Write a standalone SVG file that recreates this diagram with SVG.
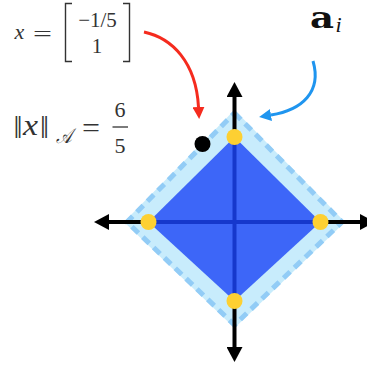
<svg xmlns="http://www.w3.org/2000/svg" width="367" height="367" viewBox="0 0 367 367">
<style>
.axis{stroke:#000;stroke-width:4;fill:none}
.inax{stroke:#1638cc;stroke-width:4;fill:none}
.dot{fill:#fdd032}
</style>
<defs>
<marker id="ah" markerUnits="userSpaceOnUse" viewBox="0 0 15 16" refX="0" refY="8" markerWidth="15" markerHeight="16" orient="auto">
<path d="M0,0 L15,8 L0,16 z" fill="#000"/>
</marker>
<marker id="ahRed" markerUnits="userSpaceOnUse" viewBox="0 0 12 12" refX="0" refY="6" markerWidth="12" markerHeight="12" orient="auto">
<path d="M0,0 L12,6 L0,12 z" fill="#f52b1e"/>
</marker>
<marker id="ahBlue" markerUnits="userSpaceOnUse" viewBox="0 0 12 12" refX="0" refY="6" markerWidth="12" markerHeight="12" orient="auto">
<path d="M0,0 L12,6 L0,12 z" fill="#1f95ef"/>
</marker>
</defs>

<g id="outer-ball">
<polygon points="234.5,110 345,222 234.5,328 124,222" fill="#c8ecfc"/>
<polygon points="234.5,113 342,222 234.5,325 127,222" fill="none" stroke="#92ccf6" stroke-width="5" stroke-dasharray="9,6"/>
</g>
<g id="inner-ball">
<polygon points="234.5,137 320.5,222 234.5,301 148.5,222" fill="#3d66f8"/>
<line class="inax" x1="234.5" y1="137" x2="234.5" y2="301"/>
<line class="inax" x1="148.5" y1="222" x2="320.5" y2="222"/>
</g>
<g id="axes">
<line class="axis" x1="234.5" y1="137" x2="234.5" y2="97" marker-end="url(#ah)"/>
<line class="axis" x1="234.5" y1="301" x2="234.5" y2="347" marker-end="url(#ah)"/>
<line class="axis" x1="148.5" y1="222" x2="109" y2="222" marker-end="url(#ah)"/>
<line class="axis" x1="320.5" y1="222" x2="360" y2="222" marker-end="url(#ah)"/>
</g>
<g id="atoms">
<circle class="dot" cx="234.5" cy="137" r="8"/>
<circle class="dot" cx="320.5" cy="222" r="8"/>
<circle class="dot" cx="234.5" cy="301" r="8"/>
<circle class="dot" cx="148.5" cy="222" r="8"/>
</g>
<g id="point-x">
<circle cx="202.5" cy="144" r="8" fill="#000"/>
</g>

<g id="connectors">
<path d="M144,32 C172,38 196,62 198.5,107" fill="none" stroke="#f52b1e" stroke-width="3" marker-end="url(#ahRed)"/>
<path d="M313,61 C322,92 302,110 271,115" fill="none" stroke="#1f95ef" stroke-width="3" marker-end="url(#ahBlue)"/>
</g>

<g id="label-x" font-family="'Liberation Serif','DejaVu Serif',serif" fill="#333333">
<text x="14.5" y="39" font-size="22" font-style="italic">x</text>
<text x="33" y="41" font-size="22" textLength="19" lengthAdjust="spacingAndGlyphs">=</text>
<path d="M72,3.5 H65.5 V61.5 H72 M123,3.5 H129.5 V61.5 H123" fill="none" stroke="#333" stroke-width="1.4"/>
<text x="97.5" y="27" font-size="21" text-anchor="middle">−1/5</text>
<text x="97" y="53" font-size="21" text-anchor="middle">1</text>
</g>
<g id="label-norm" font-family="'Liberation Serif','DejaVu Serif',serif" fill="#333333">
<text x="13.5" y="138" font-size="32">‖</text>
<text x="23" y="135" font-size="29" font-style="italic" textLength="15" lengthAdjust="spacingAndGlyphs">x</text>
<text x="40" y="138" font-size="32">‖</text>
<text x="56" y="143" font-size="21" font-style="italic" font-family="'DejaVu Serif','DejaVu Sans',serif" textLength="16" lengthAdjust="spacingAndGlyphs">𝒜</text>
<text x="82" y="137" font-size="28" textLength="18" lengthAdjust="spacingAndGlyphs">=</text>
<text x="120" y="117" font-size="22" text-anchor="middle">6</text>
<line x1="112.5" y1="127" x2="128" y2="127" stroke="#333" stroke-width="1.3"/>
<text x="120" y="153" font-size="22" text-anchor="middle">5</text>
</g>
<g id="label-a" font-family="'DejaVu Serif','Liberation Serif',serif" fill="#111111">
<text x="310" y="28" font-size="29" font-weight="bold" textLength="24" lengthAdjust="spacingAndGlyphs">a</text>
<text x="335.5" y="32" font-size="22" font-style="italic" font-family="'Liberation Serif','DejaVu Serif',serif">i</text>
</g>
</svg>
